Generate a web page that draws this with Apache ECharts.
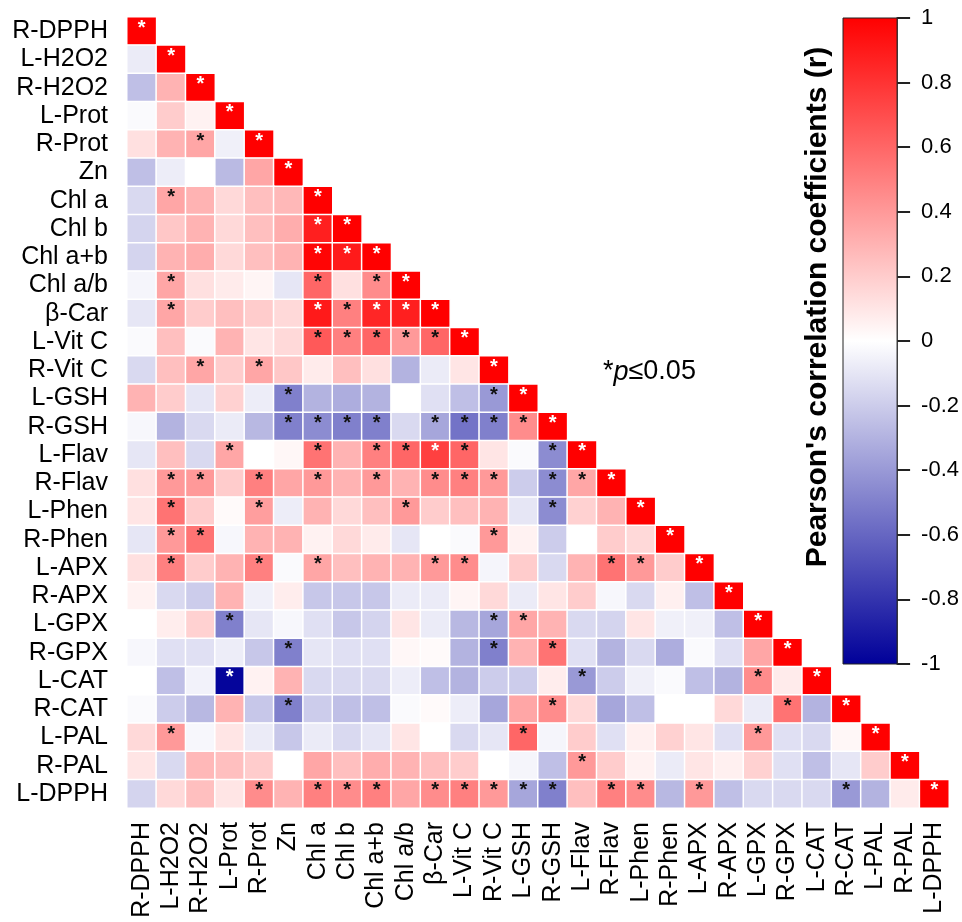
<!DOCTYPE html>
<html>
<head>
<meta charset="utf-8">
<script src="https://cdn.jsdelivr.net/npm/echarts@6/dist/echarts.min.js"></script>
<style>
html,body{margin:0;padding:0;background:#fff;}
#chart{width:962px;height:922px;}
</style>
</head>
<body>
<div id="chart"></div>
<script>
const labels = ['R-DPPH','L-H2O2','R-H2O2','L-Prot','R-Prot','Zn','Chl a','Chl b','Chl a+b','Chl a/b','β-Car','L-Vit C','R-Vit C','L-GSH','R-GSH','L-Flav','R-Flav','L-Phen','R-Phen','L-APX','R-APX','L-GPX','R-GPX','L-CAT','R-CAT','L-PAL','R-PAL','L-DPPH'];

// lower-triangle correlation rows (row i has i+1 values, columns in label order)
const rowR_DPPH = [1];
const rowL_H2O2 = [-0.08, 1];
const rowR_H2O2 = [-0.25, 0.3, 1];
const rowL_Prot = [-0.02, 0.2, 0.05, 1];
const rowR_Prot = [0.12, 0.3, 0.35, -0.06, 1];
const rowZn = [-0.25, -0.07, 0, -0.27, 0.35, 1];
const rowChlA = [-0.15, 0.35, 0.3, 0.15, 0.25, 0.28, 1];
const rowChlB = [-0.17, 0.22, 0.3, 0.15, 0.25, 0.32, 0.88, 1];
const rowChlAB = [-0.17, 0.3, 0.32, 0.15, 0.25, 0.3, 0.98, 0.9, 1];
const rowChlAtoB = [-0.04, 0.35, 0.12, 0.08, 0.04, -0.1, 0.6, 0.12, 0.45, 1];
const rowBCar = [-0.1, 0.35, 0.2, 0.25, 0.2, 0.15, 0.9, 0.5, 0.85, 0.88, 1];
const rowL_VitC = [-0.02, 0.25, -0.02, 0.3, 0.1, 0.15, 0.65, 0.5, 0.6, 0.4, 0.6, 1];
const rowR_VitC = [-0.15, 0.25, 0.35, 0.2, 0.35, 0.22, 0.08, 0.25, 0.12, -0.3, -0.08, 0.1, 1];
const rowL_GSH = [0.3, 0.2, -0.1, 0.18, -0.07, -0.5, -0.3, -0.32, -0.3, 0, -0.12, -0.25, -0.4, 1];
const rowR_GSH = [-0.03, -0.3, -0.15, -0.08, -0.28, -0.5, -0.45, -0.5, -0.5, -0.15, -0.35, -0.55, -0.5, 0.45, 1];
const rowL_Flav = [-0.1, 0.25, -0.15, 0.35, 0, 0.03, 0.55, 0.3, 0.5, 0.6, 0.75, 0.6, 0.1, -0.02, -0.45, 1];
const rowR_Flav = [0.12, 0.4, 0.4, 0.2, 0.5, 0.35, 0.4, 0.3, 0.4, 0.3, 0.45, 0.5, 0.4, -0.2, -0.45, 0.35, 1];
const rowL_Phen = [0.1, 0.55, 0.2, 0.02, 0.38, -0.07, 0.3, 0.15, 0.25, 0.4, 0.2, 0.25, 0.3, -0.1, -0.45, 0.18, 0.3, 1];
const rowR_Phen = [-0.1, 0.4, 0.55, -0.03, 0.3, 0.3, 0.05, 0.15, 0.08, -0.1, 0, -0.02, 0.4, 0.05, -0.2, 0, 0.2, 0.15, 1];
const rowL_APX = [0.12, 0.5, 0.2, 0.3, 0.5, -0.02, 0.35, 0.25, 0.3, 0.3, 0.4, 0.45, -0.04, 0.2, -0.15, 0.3, 0.55, 0.4, 0.2, 1];
const rowR_APX = [0.05, -0.15, -0.2, 0.3, -0.06, 0.07, -0.22, -0.22, -0.22, -0.08, -0.08, 0.04, 0.15, -0.08, 0.1, 0.2, -0.03, -0.15, 0.06, -0.25, 1];
const rowL_GPX = [0, 0.07, 0.18, -0.5, -0.1, -0.03, -0.12, -0.22, -0.17, 0.1, -0.08, -0.28, -0.35, 0.35, 0.3, -0.15, -0.17, 0.1, -0.06, -0.06, -0.25, 1];
const rowR_GPX = [-0.03, -0.12, -0.12, -0.07, -0.22, -0.5, -0.1, -0.12, -0.12, 0.03, 0.02, -0.3, -0.5, 0.3, 0.55, -0.12, -0.3, -0.15, -0.32, -0.02, -0.12, 0.35, 1];
const rowL_CAT = [0, -0.25, -0.05, -0.98, 0.05, 0.3, -0.15, -0.15, -0.15, -0.07, -0.25, -0.3, -0.2, -0.2, 0.07, -0.4, -0.2, -0.06, -0.02, -0.25, -0.3, 0.45, 0.08, 1];
const rowR_CAT = [-0.02, -0.2, -0.28, 0.3, -0.22, -0.5, -0.2, -0.25, -0.25, -0.02, 0.02, -0.07, -0.35, 0.35, 0.45, 0.15, -0.35, -0.25, 0, 0, 0.15, -0.08, 0.55, -0.3, 1];
const rowL_PAL = [0.15, 0.4, -0.03, 0.1, -0.08, -0.22, -0.08, -0.15, -0.1, 0.1, 0, -0.15, -0.1, 0.6, -0.04, 0.2, -0.12, 0.06, 0.18, 0.1, -0.12, 0.4, -0.12, -0.15, 0.03, 1];
const rowR_PAL = [0.1, -0.15, 0.28, 0.25, 0.2, 0, 0.35, 0.25, 0.32, 0.3, 0.25, 0.2, 0, -0.04, -0.25, 0.4, 0.2, 0.05, -0.08, 0.1, 0.06, 0.18, -0.12, -0.25, -0.1, 0.2, 1];
const rowL_DPPH = [-0.17, 0.15, 0.25, 0.1, 0.45, 0.3, 0.5, 0.45, 0.5, 0.35, 0.45, 0.5, 0.4, -0.35, -0.5, 0.25, 0.5, 0.45, -0.28, 0.4, -0.25, -0.15, -0.15, -0.15, -0.4, -0.3, 0.08, 1];

// significant (p<=0.05) column indices per row, besides the diagonal
const sigCols = [
  [], [], [], [], [2], [], [1], [6], [6,7], [1,6,8],
  [1,6,7,8,9], [6,7,8,9,10], [2,4], [5,12], [5,6,7,8,10,11,12,13],
  [3,6,8,9,10,11,14], [1,2,4,6,8,10,11,12,14,15], [1,4,9,14], [1,2,12], [1,4,6,10,11,16,17],
  [], [3,12,13], [5,12,14], [3,15,21], [5,14,22], [1,13,21], [15],
  [4,6,7,8,10,11,12,13,14,16,17,19,24]
];

const rows = [rowR_DPPH,rowL_H2O2,rowR_H2O2,rowL_Prot,rowR_Prot,rowZn,rowChlA,rowChlB,rowChlAB,rowChlAtoB,
  rowBCar,rowL_VitC,rowR_VitC,rowL_GSH,rowR_GSH,rowL_Flav,rowR_Flav,rowL_Phen,rowR_Phen,rowL_APX,
  rowR_APX,rowL_GPX,rowR_GPX,rowL_CAT,rowR_CAT,rowL_PAL,rowR_PAL,rowL_DPPH];

const heatData = [];
rows.forEach((vals, i) => {
  vals.forEach((v, j) => {
    const sig = (i === j) || sigCols[i].indexOf(j) >= 0;
    const item = { value: [j, i, v] };
    if (sig) {
      item.label = { show: true, formatter: '*', color: Math.abs(v) >= 0.7 ? '#ffffff' : '#111111' };
    }
    heatData.push(item);
  });
});

const FONT = 'Arial, "Liberation Sans", Helvetica, sans-serif';
const chart = echarts.init(document.getElementById('chart'), null, { renderer: 'canvas' });

const option = {
  backgroundColor: '#ffffff',
  animation: false,
  grid: [
    { left: 127, top: 17, width: 822, height: 791 },
    { left: 843, top: 18, width: 55, height: 646 }
  ],
  xAxis: [
    {
      type: 'category', gridIndex: 0, data: labels,
      axisLine: { show: true, lineStyle: { color: '#000', width: 2 } },
      axisTick: { show: false },
      splitLine: { show: false },
      axisLabel: { rotate: 90, interval: 0, margin: 14, fontSize: 25, color: '#000', fontFamily: FONT }
    },
    {
      type: 'category', gridIndex: 1, data: ['c'], show: false
    }
  ],
  yAxis: [
    {
      type: 'category', gridIndex: 0, data: labels, inverse: true,
      axisLine: { show: true, lineStyle: { color: '#000', width: 2 } },
      axisTick: { show: false },
      splitLine: { show: false },
      axisLabel: { interval: 0, margin: 19, fontSize: 25, color: '#000', fontFamily: FONT }
    },
    {
      type: 'value', gridIndex: 1, min: -1, max: 1, interval: 0.2, position: 'right',
      axisLine: { show: true, lineStyle: { color: '#222', width: 1.5 } },
      axisTick: { show: true, length: 13, lineStyle: { color: '#222', width: 2 } },
      splitLine: { show: false },
      axisLabel: {
        margin: 24, fontSize: 22, color: '#000', fontFamily: FONT,
        formatter: v => String(Math.round(v * 10) / 10)
      }
    }
  ],
  visualMap: {
    show: false, type: 'continuous', seriesIndex: 0, dimension: 2,
    min: -1, max: 1,
    inRange: { color: ['#000099', '#ffffff', '#ff0000'] }
  },
  graphic: [
    {
      type: 'text', x: 818, y: 307, rotation: Math.PI / 2,
      style: {
        text: "Pearson's correlation coefficients (r)",
        font: 'bold 30px ' + FONT, fill: '#000',
        textAlign: 'center', textVerticalAlign: 'middle'
      }
    },
    {
      type: 'text', x: 603, y: 372,
      style: {
        text: '*{i|p}≤0.05',
        font: '27px ' + FONT, fill: '#000',
        textVerticalAlign: 'middle',
        rich: { i: { fontStyle: 'italic', fontSize: 27, fontFamily: FONT } }
      }
    }
  ],
  series: [
    {
      type: 'heatmap', xAxisIndex: 0, yAxisIndex: 0,
      data: heatData,
      itemStyle: { borderColor: '#ffffff', borderWidth: 1.5 },
      label: { show: false, fontSize: 20, fontWeight: 'bold', offset: [0, -3], fontFamily: FONT },
      emphasis: { disabled: true }
    },
    {
      type: 'custom', xAxisIndex: 1, yAxisIndex: 1,
      data: [[0, -1, 1]],
      renderItem: function (params, api) {
        const top = api.coord([0, api.value(2)]);
        const bot = api.coord([0, api.value(1)]);
        const w = api.size([1, 0])[0];
        return {
          type: 'rect',
          shape: { x: top[0] - w / 2, y: top[1], width: w, height: bot[1] - top[1] },
          style: {
            fill: new echarts.graphic.LinearGradient(0, 0, 0, 1, [
              { offset: 0, color: '#ff0000' },
              { offset: 0.5, color: '#ffffff' },
              { offset: 1, color: '#000099' }
            ]),
            stroke: '#222', lineWidth: 1
          }
        };
      }
    }
  ]
};
chart.setOption(option);
</script>
</body>
</html>
